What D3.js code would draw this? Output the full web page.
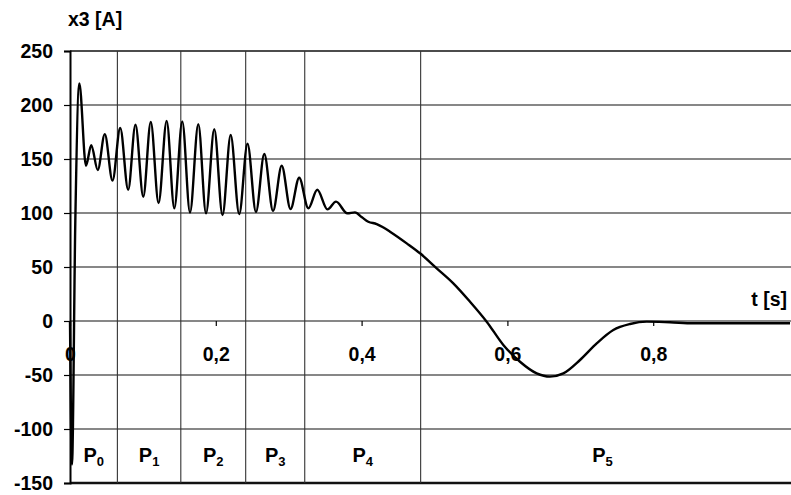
<!DOCTYPE html>
<html>
<head>
<meta charset="utf-8">
<script src="https://cdn.jsdelivr.net/npm/d3@7"></script>
<style>
  html, body { margin: 0; padding: 0; background: #fff; }
  svg { display: block; }
  text { font-family: "Liberation Sans", Arial, sans-serif; font-weight: bold; fill: #000; }
</style>
</head>
<body>
<svg id="chart" width="791" height="495"></svg>
<script>
// Current x3 [A] against time t [s]
const timeS = [
  0, 0.0027, 0.0073, 0.0128, 0.0219, 0.0291, 0.0381, 0.0477, 0.0583, 0.0689,
  0.0798, 0.0898, 0.1005, 0.1108, 0.1215, 0.1326, 0.1431, 0.1540, 0.1646, 0.1760,
  0.1866, 0.1979, 0.2092, 0.2204, 0.2321, 0.2435, 0.2551, 0.2665, 0.2785, 0.2904,
  0.3025, 0.3144, 0.3269, 0.3392, 0.3532, 0.3649, 0.3804, 0.3909, 0.4005, 0.4092,
  0.4207, 0.4300, 0.4390, 0.4619, 0.4801, 0.5030, 0.5258, 0.5487, 0.5716, 0.5944,
  0.6173, 0.6402, 0.6584, 0.6767, 0.6996, 0.7225, 0.7453, 0.7682, 0.7911, 0.8230,
  0.8550, 0.9877
];
const currentA = [
  0, -133, 93, 220, 143.8, 162.8, 139.8, 173, 130, 178.7,
  121.5, 181.8, 115.1, 184.2, 109.3, 185.3, 104.4, 184.8, 100.5, 182.3,
  99.7, 177.6, 98.1, 172.2, 99, 164.2, 100.9, 154.6, 102, 143.7,
  103.7, 132.7, 104.4, 121.5, 103.4, 110.5, 99.7, 100.6, 96, 91.9,
  89.8, 86.5, 82.7, 71.9, 62.7, 48.8, 34.9, 17.9, -0.6, -22.2,
  -37.7, -48.5, -51.5, -48.5, -36.1, -20.7, -8.3, -2.8, -0.6, -1.2,
  -2.1, -2.1
];

// Axis ticks
const yTicks = [250, 200, 150, 100, 50, 0, -50, -100, -150];
const xTicks = [0, 0.2, 0.4, 0.6, 0.8];
const xTickLabels = ["0", "0,2", "0,4", "0,6", "0,8"];

// Operating periods P0..P5 (edges in seconds)
const periodEdges = [0, 0.065, 0.152, 0.241, 0.322, 0.481, 0.98];
const periodIndex = ["0", "1", "2", "3", "4", "5"];

const svg = d3.select("#chart");
const W = 791;
const plotLeft = 70, plotTop = 51, plotBottom = 483;

const x = d3.scaleLinear().domain([0, 1]).range([plotLeft, plotLeft + 729]);
const y = d3.scaleLinear().domain([-150, 250]).range([plotBottom, plotTop]);

// Horizontal grid lines
svg.append("g")
  .selectAll("line")
  .data(yTicks)
  .join("line")
  .attr("x1", plotLeft).attr("x2", W)
  .attr("y1", d => y(d)).attr("y2", d => y(d))
  .attr("stroke", "#111")
  .attr("stroke-width", d => d === -150 ? 2.4 : (d === 250 ? 1.5 : 1.1));

// Vertical period boundaries
svg.append("g")
  .selectAll("line")
  .data(periodEdges.slice(1, -1))
  .join("line")
  .attr("x1", d => x(d)).attr("x2", d => x(d))
  .attr("y1", plotTop).attr("y2", plotBottom)
  .attr("stroke", "#333")
  .attr("stroke-width", 1.1);

// Y axis
const yAxis = d3.axisLeft(y)
  .tickValues(yTicks)
  .tickSize(6)
  .tickPadding(11)
  .tickFormat(d => String(d));
const gy = svg.append("g").attr("transform", `translate(${plotLeft},0)`).call(yAxis);
gy.select(".domain").attr("stroke", "#000").attr("stroke-width", 2);
gy.selectAll(".tick line").attr("stroke", "#000").attr("stroke-width", 1.2);
gy.selectAll(".tick text")
  .attr("font-size", 19.5).attr("font-family", null).attr("fill", "#000");

// X axis drawn along the zero line
const xAxis = d3.axisBottom(x)
  .tickValues(xTicks)
  .tickSize(5)
  .tickPadding(21)
  .tickFormat((d, i) => xTickLabels[i]);
const gx = svg.append("g").attr("transform", `translate(0,${y(0)})`).call(xAxis);
gx.select(".domain").remove();
gx.selectAll(".tick line").attr("stroke", "#000").attr("stroke-width", 1.2);
gx.selectAll(".tick text")
  .attr("font-size", 19.5).attr("font-family", null).attr("fill", "#000");

// Current trace
const line = d3.line()
  .x((d, i) => x(timeS[i]))
  .y(d => y(d))
  .curve(d3.curveMonotoneX);
svg.append("path")
  .datum(currentA)
  .attr("d", line)
  .attr("fill", "none")
  .attr("stroke", "#000")
  .attr("stroke-width", 2.4)
  .attr("stroke-linejoin", "round");

// Period labels
const pLab = svg.append("g")
  .selectAll("text")
  .data(periodIndex)
  .join("text")
  .attr("x", (d, i) => x((periodEdges[i] + periodEdges[i + 1]) / 2))
  .attr("y", 462)
  .attr("text-anchor", "middle")
  .attr("font-size", 20);
pLab.append("tspan").text("P");
pLab.append("tspan").attr("font-size", 13).attr("dy", 4).text(d => d);

// Axis titles
svg.append("text")
  .attr("x", 68).attr("y", 26)
  .attr("font-size", 19.5)
  .text("x3 [A]");
svg.append("text")
  .attr("x", 787).attr("y", 306)
  .attr("text-anchor", "end")
  .attr("font-size", 19.5)
  .text("t [s]");
</script>
</body>
</html>
